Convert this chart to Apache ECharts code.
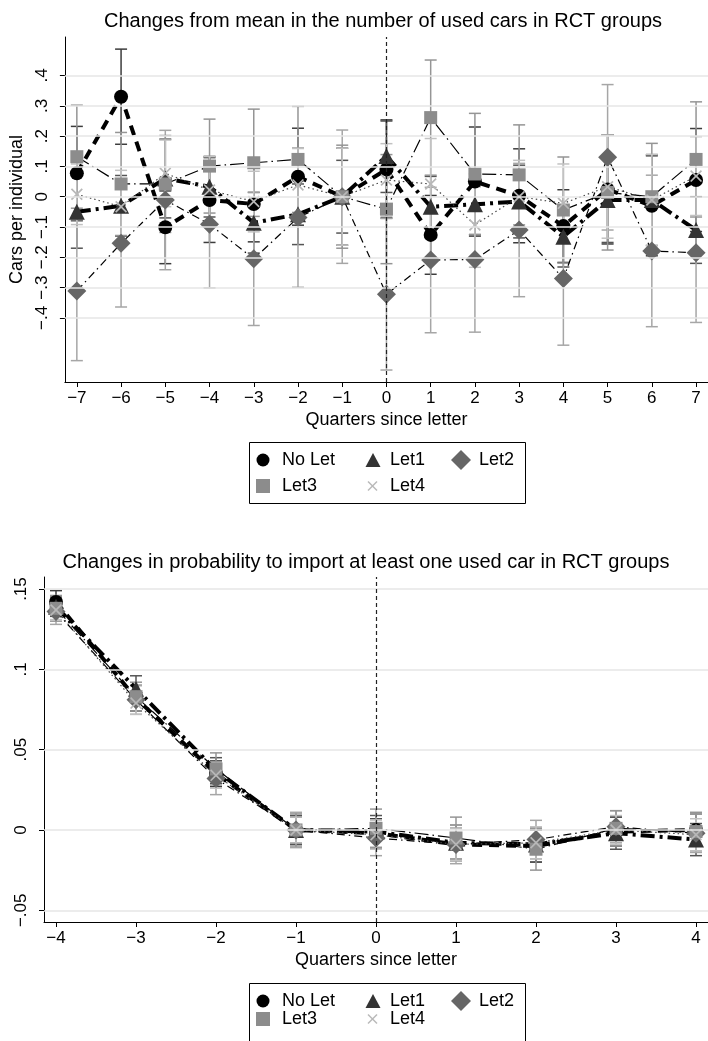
<!DOCTYPE html>
<html><head><meta charset="utf-8">
<script src="https://cdn.jsdelivr.net/npm/echarts@6/dist/echarts.min.js"></script>
<style>html,body{margin:0;padding:0;background:#fff}#c{width:708px;height:1041px}</style>
</head><body><div id="c"></div>
<script>
// ---------- DATA ----------
const groupNames = ['No Let', 'Let1', 'Let2', 'Let3', 'Let4'];

// Top chart: changes from mean in number of used cars
const quartersTop = [-7,-6,-5,-4,-3,-2,-1,0,1,2,3,4,5,6,7];
const noLetTop = [0.077, 0.330, -0.101, -0.011, -0.024, 0.066, 0.0, 0.090, -0.126, 0.050, 0.003, -0.097, 0.024, -0.030, 0.055];
const let1Top  = [-0.050, -0.030, 0.060, 0.033, -0.086, -0.058, 0.0, 0.134, -0.033, -0.025, -0.016, -0.132, -0.011, -0.011, -0.110];
const let2Top  = [-0.311, -0.154, -0.011, -0.091, -0.205, -0.069, 0.0, -0.322, -0.209, -0.207, -0.110, -0.270, 0.130, -0.179, -0.185];
const let3Top  = [0.132, 0.042, 0.042, 0.101, 0.112, 0.123, 0.0, -0.041, 0.261, 0.075, 0.072, -0.044, 0.014, 0.0, 0.123];
const let4Top  = [0.008, -0.033, 0.077, 0.022, -0.016, 0.039, 0.0, 0.055, 0.042, -0.093, 0.0, -0.022, 0.033, -0.011, 0.068];
// half-widths of the confidence intervals
const noLetTopCI = [0.155, 0.157, 0.12, 0.14, 0.125, 0.16, 0.16, 0.16, 0.13, 0.18, 0.155, 0.12, 0.18, 0.165, 0.17];
const let1TopCI  = [0.12, 0.10, 0.13, 0.10, 0.10, 0.10, 0.12, 0.12, 0.10, 0.10, 0.12, 0.10, 0.14, 0.15, 0.11];
const let2TopCI  = [0.23, 0.21, 0.23, 0.21, 0.22, 0.23, 0.22, 0.25, 0.24, 0.24, 0.22, 0.22, 0.24, 0.25, 0.23];
const let3TopCI  = [0.17, 0.17, 0.16, 0.155, 0.177, 0.175, 0.17, 0.18, 0.19, 0.20, 0.165, 0.175, 0.19, 0.176, 0.19];
const let4TopCI  = [0.10, 0.12, 0.11, 0.11, 0.10, 0.12, 0.16, 0.12, 0.15, 0.14, 0.12, 0.13, 0.17, 0.15, 0.13];
const yTicksTop = [-0.4, -0.3, -0.2, -0.1, 0, 0.1, 0.2, 0.3, 0.4];

// Bottom chart: probability to import at least one used car
const quartersBottom = [-4,-3,-2,-1,0,1,2,3,4];
const noLetBot = [0.142, 0.082, 0.035, 0, -0.002, -0.009, -0.010, -0.001, 0.000];
const let1Bot  = [0.139, 0.088, 0.037, 0, -0.001, -0.008, -0.009, -0.002, -0.006];
const let2Bot  = [0.136, 0.081, 0.032, 0, -0.005, -0.009, -0.006, 0.002, -0.002];
const let3Bot  = [0.138, 0.083, 0.038, 0, 0.001, -0.005, -0.012, 0.001, -0.001];
const let4Bot  = [0.137, 0.079, 0.034, 0, -0.003, -0.009, -0.008, 0.000, -0.003];
const noLetBotCI = [0.007, 0.008, 0.008, 0.008, 0.009, 0.010, 0.010, 0.009, 0.010];
const let1BotCI  = [0.006, 0.008, 0.008, 0.009, 0.010, 0.011, 0.011, 0.010, 0.010];
const let2BotCI  = [0.008, 0.009, 0.010, 0.011, 0.011, 0.012, 0.012, 0.010, 0.012];
const let3BotCI  = [0.008, 0.009, 0.010, 0.010, 0.012, 0.013, 0.013, 0.011, 0.012];
const let4BotCI  = [0.006, 0.007, 0.008, 0.008, 0.009, 0.010, 0.010, 0.009, 0.010];
const yTicksBot = [-0.05, 0, 0.05, 0.1, 0.15];

const titleTop = 'Changes from mean in the number of used cars in RCT groups';
const titleBot = 'Changes in probability to import at least one used car in RCT groups';
const xTitle = 'Quarters since letter';
const yTitleTop = 'Cars per individual';

// ---------- STYLE ----------
const FONT = "'Liberation Sans', Arial, Helvetica, sans-serif";
const XSYM = 'path://M0,1 L1,0 L5,4 L9,0 L10,1 L6,5 L10,9 L9,10 L5,6 L1,10 L0,9 L4,5 Z';
const styles = [
  {sym:'circle',   col:'#000000', size:14, bar:'#3c3c3c', lw:4,   lt:[10,7],        lc:'#000'},
  {sym:'triangle', col:'#333333', size:16, bar:'#555555', lw:4,   lt:[14,5,3,5],    lc:'#000'},
  {sym:'diamond',  col:'#666666', size:19, bar:'#a6a6a6', lw:1.2, lt:[8,4,1.5,4],   lc:'#000'},
  {sym:'rect',     col:'#8c8c8c', size:13, bar:'#959595', lw:1.2, lt:[14,4,1.5,4],  lc:'#000'},
  {sym:XSYM,       col:'#b8b8b8', size:12, bar:'#c2c2c2', lw:1.2, lt:[1.5,3],       lc:'#444'}
];

function fmtY(v){
  if (Math.abs(v) < 1e-9) return '0';
  let s = Math.abs(v).toFixed(2).replace(/0+$/,'').replace(/^0/,'');
  return (v < 0 ? '\u2212' : '') + s;
}
function fmtX(v){ return (v < 0 ? '\u2212' : '') + Math.abs(v); }

function errRender(color){
  return function(params, api){
    const x = api.value(0), lo = api.value(1), hi = api.value(2);
    const a = api.coord([x, lo]), b = api.coord([x, hi]);
    const w = 6;
    const st = {stroke: color, lineWidth: 1.5};
    return {type:'group', children:[
      {type:'line', shape:{x1:a[0], y1:a[1], x2:b[0], y2:b[1]}, style:st},
      {type:'line', shape:{x1:a[0]-w, y1:a[1], x2:a[0]+w, y2:a[1]}, style:st},
      {type:'line', shape:{x1:b[0]-w, y1:b[1], x2:b[0]+w, y2:b[1]}, style:st}
    ]};
  };
}

const series = [];
function addChart(idx, xs, vals, cis, gridVals){
  series.push({
    type:'line', name:'_grid'+idx, xAxisIndex:idx, yAxisIndex:idx,
    data:[[0, 0]], symbol:'none', lineStyle:{width:0, opacity:0}, silent:true, z:0,
    markLine:{
      silent:true, symbol:['none','none'], animation:false,
      label:{show:false},
      data: gridVals.map(v => ({yAxis:v, lineStyle:{color:'#e6e6e6', width:1.5, type:'solid'}}))
        .concat([{xAxis:0, lineStyle:{color:'#222', width:1.2, type:[4,3]}}])
    }
  });
  vals.forEach((arr, g) => {
    series.push({
      type:'custom', name:groupNames[g]+' CI '+idx, xAxisIndex:idx, yAxisIndex:idx,
      renderItem: errRender(styles[g].bar), silent:true, z:1,
      encode:{x:0, y:[1,2]},
      data: xs.map((x,i) => [x, arr[i]-cis[g][i], arr[i]+cis[g][i]])
    });
  });
  vals.forEach((arr, g) => {
    series.push({
      type:'line', name:groupNames[g]+' line '+idx, xAxisIndex:idx, yAxisIndex:idx,
      data: xs.map((x,i) => [x, arr[i]]), symbol:'none', silent:true, z:2,
      lineStyle:{color:styles[g].lc, width:styles[g].lw, type:styles[g].lt}
    });
  });
  vals.forEach((arr, g) => {
    series.push({
      type:'scatter', name:groupNames[g], xAxisIndex:idx, yAxisIndex:idx,
      data: xs.map((x,i) => [x, arr[i]]), symbol:styles[g].sym, symbolSize:styles[g].size,
      itemStyle:{color:styles[g].col, opacity:1}, silent:true, z:3
    });
  });
}
addChart(0, quartersTop, [noLetTop, let1Top, let2Top, let3Top, let4Top],
  [noLetTopCI, let1TopCI, let2TopCI, let3TopCI, let4TopCI], yTicksTop);
addChart(1, quartersBottom, [noLetBot, let1Bot, let2Bot, let3Bot, let4Bot],
  [noLetBotCI, let1BotCI, let2BotCI, let3BotCI, let4BotCI], yTicksBot);

const legItems = [
  {g:0, cx:263,   w:13, h:13, pad:7.5, row:0},
  {g:1, cx:373,   w:15, h:14, pad:4.5, row:0},
  {g:2, cx:461,   w:20, h:20, pad:3,   row:0},
  {g:3, cx:263,   w:14, h:14, pad:7,   row:1},
  {g:4, cx:372.5, w:10, h:10, pad:7.5, row:1}
];
const legendRows = [[460, 486], [1001, 1019]];
const legends = [];
legendRows.forEach(rows => {
  legItems.forEach(it => {
    const hh = Math.max(it.h, 18);
    legends.push({
      data:[{name:groupNames[it.g], icon: it.g === 4 ? XSYM : styles[it.g].sym}],
      left: it.cx - it.w/2, top: rows[it.row] - hh/2,
      itemWidth: it.w, itemHeight: it.h, padding:0, selectedMode:false,
      textStyle:{fontFamily:FONT, fontSize:18, color:'#000', padding:[0,0,0,it.pad]}
    });
  });
});

const axisCommon = {
  axisLine:{show:true, onZero:false, lineStyle:{color:'#000', width:1}},
  splitLine:{show:false}
};
const tickFont = {fontFamily:FONT, fontSize:17, color:'#000'};

const option = {
  animation:false,
  backgroundColor:'#fff',
  grid:[
    {left:63, top:37, width:648, height:345, containLabel:false},
    {left:44, top:577, width:665, height:345, containLabel:false}
  ],
  xAxis:[
    Object.assign({}, axisCommon, {
      type:'value', gridIndex:0, min:-7.27, max:7.27,
      axisTick:{show:true, length:5, lineStyle:{color:'#000'}, customValues:quartersTop},
      axisLabel:Object.assign({customValues:quartersTop, formatter:fmtX, margin:8}, tickFont),
      name:xTitle, nameLocation:'middle', nameGap:29,
      nameTextStyle:{fontFamily:FONT, fontSize:18, color:'#000'}
    }),
    Object.assign({}, axisCommon, {
      type:'value', gridIndex:1, min:-4.15, max:4.15,
      axisTick:{show:true, length:5, lineStyle:{color:'#000'}, customValues:quartersBottom},
      axisLabel:Object.assign({customValues:quartersBottom, formatter:fmtX, margin:8}, tickFont),
      name:xTitle, nameLocation:'middle', nameGap:29,
      nameTextStyle:{fontFamily:FONT, fontSize:18, color:'#000'}
    })
  ],
  yAxis:[
    Object.assign({}, axisCommon, {
      type:'value', gridIndex:0, min:-0.6115, max:0.527,
      axisTick:{show:true, length:5, lineStyle:{color:'#000'}, customValues:yTicksTop},
      axisLabel:Object.assign({customValues:yTicksTop, formatter:fmtY, rotate:90, margin:14}, tickFont),
      name:yTitleTop, nameLocation:'middle', nameGap:36,
      nameTextStyle:{fontFamily:FONT, fontSize:18, color:'#000'}
    }),
    Object.assign({}, axisCommon, {
      type:'value', gridIndex:1, min:-0.0573, max:0.1575,
      axisTick:{show:true, length:5, lineStyle:{color:'#000'}, customValues:yTicksBot},
      axisLabel:Object.assign({customValues:yTicksBot, formatter:fmtY, rotate:90, margin:14}, tickFont)
    })
  ],
  legend: legends,
  graphic:[
    {type:'text', x:383, y:21, silent:true, style:{text:titleTop, fontFamily:FONT, fontSize:20, fill:'#000', textAlign:'center', textVerticalAlign:'middle'}},
    {type:'text', x:366, y:562, silent:true, style:{text:titleBot, fontFamily:FONT, fontSize:20, fill:'#000', textAlign:'center', textVerticalAlign:'middle'}},
    {type:'rect', shape:{x:249.5, y:442.5, width:276, height:61}, silent:true, style:{fill:'none', stroke:'#000', lineWidth:1}},
    {type:'rect', shape:{x:249.5, y:983.5, width:276, height:60}, silent:true, style:{fill:'none', stroke:'#000', lineWidth:1}}
  ],
  series: series
};

const chart = echarts.init(document.getElementById('c'), null, {renderer:'canvas'});
chart.setOption(option);
</script>
</body></html>
